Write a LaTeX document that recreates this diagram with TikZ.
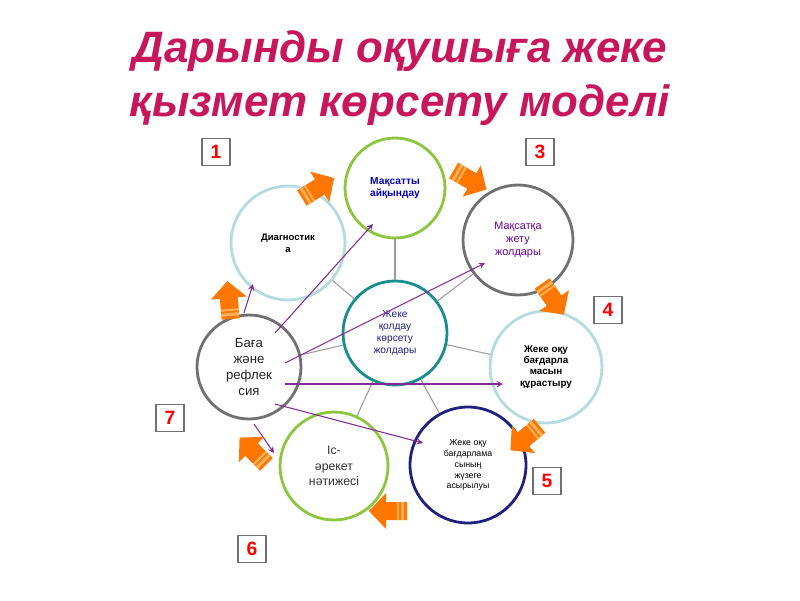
\documentclass[tikz,border=0pt]{standalone}
\usepackage{fontspec}
\setmainfont{Liberation Sans}
\usetikzlibrary{calc}
\definecolor{titlered}{RGB}{200,22,92}
\definecolor{leafgreen}{RGB}{140,198,63}
\definecolor{paleblue}{RGB}{180,220,222}
\definecolor{midgray}{RGB}{112,112,112}
\definecolor{deepnavy}{RGB}{32,32,128}
\definecolor{tealring}{RGB}{24,142,142}
\definecolor{blockorange}{RGB}{255,118,0}
\definecolor{lightorange}{RGB}{255,176,90}
\definecolor{linkpurple}{RGB}{130,42,150}
\begin{document}
\begin{tikzpicture}[x=0.02cm, y=0.02cm, >=stealth,
		blokarrow/.pic={
			\fill[blockorange] (-19,-9) -- (2,-9) -- (2,-18) -- (19,0) -- (2,18) -- (2,9) -- (-19,9) -- cycle;
			\fill[lightorange] (-16,-9) rectangle (-13,9);
			\fill[lightorange] (-11,-9) rectangle (-9,9);
		}]
	\tikzstyle{every node}=[align=center, inner sep=0pt]
	\tikzstyle{ring}=[circle, draw, line width=1.6pt, fill=white]
	\tikzstyle{spoke}=[draw=midgray!70, line width=0.6pt]
	\tikzstyle{link}=[draw=linkpurple, line width=0.6pt, ->]
	\tikzstyle{numbox}=[draw=midgray, line width=0.6pt, fill=white, minimum width=0.56cm, minimum height=0.54cm, text=red, font=\fontsize{11}{11}\selectfont\bfseries]
	\useasboundingbox (0,0) rectangle (800,600);
	% title
	\node[text=titlered, font=\fontsize{25}{31}\selectfont\bfseries\itshape] (Title) at (400,522)
		{Дарынды оқушыға жеке\\қызмет көрсету моделі};
	% circles
	\node[ring, draw=tealring, minimum size=2.08cm, text=deepnavy, font=\fontsize{5.8}{6.9}\selectfont] (ortalyk) at (395,267)
		{Жеке\\қолдау\\көрсету\\жолдары};
	\node[ring, draw=leafgreen, minimum size=2.0cm, text=blue!75!black, font=\fontsize{5.8}{7}\selectfont\bfseries] (maqsat) at (395,412)
		{Мақсатты\\айқындау};
	\node[ring, draw=paleblue, minimum size=2.28cm, font=\fontsize{5.4}{6.6}\selectfont\bfseries] (diag) at (288,357)
		{Диагностик\\а};
	\node[ring, draw=midgray, minimum size=2.2cm, text=violet!80!blue, font=\fontsize{6.2}{7.5}\selectfont] (zhol) at (518,360)
		{Мақсатқа\\жету\\жолдары};
	\node[ring, draw=paleblue, minimum size=2.24cm, font=\fontsize{5.6}{6.4}\selectfont\bfseries] (qurast) at (546,233)
		{Жеке оқу\\бағдарла\\масын\\құрастыру};
	\node[ring, draw=deepnavy, minimum size=2.32cm, font=\fontsize{5}{6.2}\selectfont] (zhuzege) at (468,135)
		{Жеке оқу\\бағдарлама\\сының\\жүзеге\\асырылуы};
	\node[ring, draw=leafgreen, minimum size=2.16cm, text=black!80, font=\fontsize{7}{8.7}\selectfont] (naty) at (334,134)
		{Іс-\\әрекет\\нәтижесі};
	\node[ring, draw=midgray, minimum size=2.08cm, text=black!85, font=\fontsize{7.5}{9}\selectfont] (baga) at (249,233)
		{Баға\\және\\рефлек\\сия};
	% spokes
	\foreach \n in {maqsat, diag, zhol, qurast, zhuzege, naty, baga}
		\draw[spoke] (ortalyk) -- (\n);
	% purple links from baga
	\coordinate (b1) at ($(baga)+(26,34)$);
	\coordinate (b2) at ($(baga)+(36,4)$);
	\coordinate (b3) at ($(baga)+(36,-17)$);
	\coordinate (b4) at ($(baga)+(26,-37)$);
	\coordinate (b5) at ($(baga)+(-5,54)$);
	\coordinate (b6) at ($(baga)+(5,-57)$);
	\coordinate (t1) at ($(maqsat)+(-22,-36)$);
	\coordinate (t2) at ($(zhol)+(-33,-23)$);
	\coordinate (t3) at ($(qurast)+(-43,-17)$);
	\coordinate (t4) at ($(zhuzege)+(-45,22)$);
	\coordinate (t5) at ($(diag)+(-35,-41)$);
	\coordinate (t6) at ($(naty)+(-60,13)$);
	\foreach \i in {1,...,6}
		\draw[link] (b\i) -- (t\i);
	% orange arrows
	\pic[rotate=32] at (318,412) {blokarrow};
	\pic[rotate=-30] at (470,420) {blokarrow};
	\pic[rotate=-55] at (553,301) {blokarrow};
	\pic[rotate=-140] at (525,162) {blokarrow};
	\pic[rotate=180] at (388,89) {blokarrow};
	\pic[rotate=135] at (253,149) {blokarrow};
	\pic[rotate=95] at (229,300) {blokarrow};
	% numbers
	\node[numbox] (n1) at (216,448) {1};
	\node[numbox] (n3) at (540,448) {3};
	\node[numbox] (n4) at (608,290) {4};
	\node[numbox] (n5) at (547,119) {5};
	\node[numbox] (n6) at (252,51) {6};
	\node[numbox] (n7) at (170,182) {7};
\end{tikzpicture}
\end{document}
